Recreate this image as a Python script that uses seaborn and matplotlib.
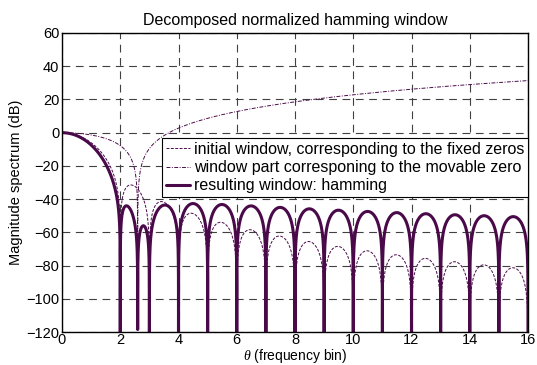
import numpy as np
import pandas as pd
import matplotlib

matplotlib.use("Agg")
import matplotlib.pyplot as plt
import seaborn as sns

# Data
# hamming window coefficients (0.54 - 0.46 cos)
a0 = 0.54
a1 = 0.46
# fixed zeros of the spectrum (frequency bins)
fixed_zeros = [2, 3, 4, 5, 6, 7, 8, 9, 10, 11, 12, 13, 14, 15, 16]
# the movable zero sits at sqrt(a0 / (a0 - a1)) ~ 2.6
movable_zero = np.sqrt(a0 / (a0 - a1))

x_ticks = [0, 2, 4, 6, 8, 10, 12, 14, 16]
y_ticks = [-120, -100, -80, -60, -40, -20, 0, 20, 40, 60]

labels = [
    "initial window, corresponding to the fixed zeros",
    "window part corresponing to the movable zero",
    "resulting window: hamming",
]

color = "#4a0a4a"

# %%
theta = np.linspace(0, fixed_zeros[-1], 16001)
theta_thin = np.linspace(0, fixed_zeros[-1], 3201) + 0.0025


def initial_window(t):
    # sinc with the zeros at +-1 removed -> zeros only at the fixed zeros
    den = 1 - t**2
    near_one = np.isclose(t, 1)
    val = np.sinc(t) / np.where(near_one, 1, den)
    return np.abs(np.where(near_one, 0.5, val))


def movable_part(t):
    return np.abs(1 - t**2 / movable_zero**2)


def to_db(v):
    return 20 * np.log10(np.maximum(v, 1e-12))


df_init = pd.DataFrame({"theta": theta_thin, "db": to_db(initial_window(theta_thin))})
df_mov = pd.DataFrame({"theta": theta_thin, "db": to_db(movable_part(theta_thin))})
df_res = pd.DataFrame(
    {"theta": theta, "db": to_db(initial_window(theta) * movable_part(theta))}
)

# %%
sns.set_style("white")
plt.rcParams["font.family"] = ["Liberation Sans", "DejaVu Sans"]
plt.rcParams["mathtext.fontset"] = "custom"
plt.rcParams["mathtext.it"] = "Liberation Serif:italic"
plt.rcParams["text.color"] = "black"
plt.rcParams["axes.labelcolor"] = "black"
plt.rcParams["xtick.color"] = "black"
plt.rcParams["ytick.color"] = "black"

fig, ax = plt.subplots(figsize=(5.37, 3.65), dpi=100)
fig.subplots_adjust(left=62 / 537, right=528 / 537, top=1 - 33 / 365, bottom=1 - 332 / 365)

sns.lineplot(data=df_init, x="theta", y="db", ax=ax, color=color, lw=0.7,
             linestyle=(0, (3, 1.5)), sort=False, estimator=None, label=labels[0])
sns.lineplot(data=df_mov, x="theta", y="db", ax=ax, color=color, lw=0.7,
             linestyle=(0, (4, 1.5, 1, 1.5)), sort=False, estimator=None, label=labels[1])
sns.lineplot(data=df_res, x="theta", y="db", ax=ax, color=color, lw=2.2,
             sort=False, estimator=None, label=labels[2])

ax.set_xlim(0, 16)
ax.set_ylim(-120, 60)
ax.set_xticks(x_ticks)
ax.set_yticks(y_ticks)
ax.grid(True, color="0.25", linestyle=(0, (7, 5)), linewidth=0.8)
ax.tick_params(direction="in", length=4, labelsize=10.5, pad=2)
ax.tick_params(axis="x", pad=1)
for s in ax.spines.values():
    s.set_color("black")
    s.set_linewidth(1.0)

ax.set_title("Decomposed normalized hamming window", fontsize=11.5, pad=6)
ax.set_xlabel(r"$\theta$ (frequency bin)", fontsize=10, labelpad=0)
ax.set_ylabel("Magnitude spectrum (dB)", fontsize=10.5, labelpad=2)

leg = ax.legend(loc="upper right", bbox_to_anchor=(1.0, (332 - 138) / 299), fontsize=11.5,
                frameon=True, fancybox=False, framealpha=1, edgecolor="black",
                borderpad=0.25, labelspacing=0.2, handlelength=1.5, handletextpad=0.2,
                borderaxespad=0)
leg.get_frame().set_linewidth(0.8)

fig.savefig("out.png", dpi=100)
